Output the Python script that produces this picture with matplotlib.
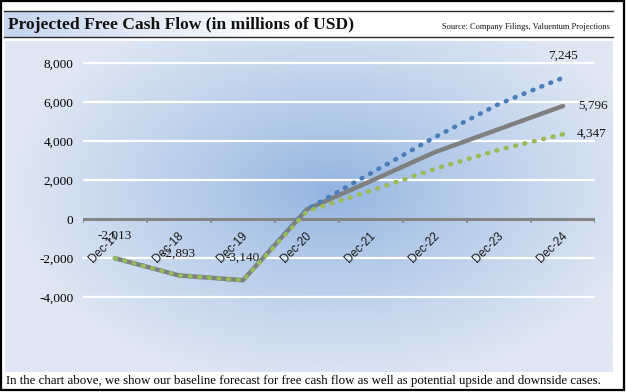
import numpy as np
import matplotlib
matplotlib.use("Agg")
from matplotlib import pyplot as plt
from matplotlib.patches import Rectangle

# data
periods = ["Dec-17", "Dec-18", "Dec-19", "Dec-20", "Dec-21", "Dec-22", "Dec-23", "Dec-24"]
baseline = [-2013, -2893, -3140, 500, 1950, 3430, 4610, 5796]
upside = [-2013, -2893, -3140, 500, 2350, 4200, 5900, 7245]
downside = [-2013, -2893, -3140, 400, 1450, 2570, 3550, 4347]
y_ticks = [-4000, -2000, 0, 2000, 4000, 6000, 8000]

W, H = 626, 392
serif = "Liberation Serif"
sans = "Liberation Sans"

fig = plt.figure(figsize=(W / 100, H / 100), dpi=100)

# background layer in pixel coordinates
bg = fig.add_axes([0, 0, 1, 1])
bg.set_xlim(0, W)
bg.set_ylim(H, 0)
bg.axis("off")

# title band: light blue fading to white
grad = np.linspace(0, 1, 300)
t = np.clip(grad / 0.45, 0, 1)
left = np.array([197, 213, 238]) / 255.0
band = (left[None, :] * (1 - t[:, None]) + np.ones(3)[None, :] * t[:, None])[None, :, :]
bg.imshow(band, extent=[4, 613, 37, 11], aspect="auto", zorder=1)
bg.plot([4, 613], [11, 11], color="#2b2b2b", lw=1.0, zorder=2)
bg.plot([4, 613], [37, 37], color="#2b2b2b", lw=1.0, zorder=2)

# chart panel with radial blue gradient
xx, yy = np.meshgrid(np.linspace(5, 613, 300), np.linspace(41, 372, 200))
r = np.sqrt(((xx - 330) / 320.0) ** 2 + ((yy - 190) / 200.0) ** 2)
r = np.clip(r, 0, 1) ** 0.85
r = r[..., None]
centre = np.array([146, 179, 224]) / 255.0
edge = np.array([222, 231, 243]) / 255.0
panel = centre * (1 - r) + edge * r
bg.imshow(panel, extent=[5, 613, 372, 41], aspect="auto", zorder=1)

# outer frame
bg.add_patch(Rectangle((0.8, 0.8), 623.5, 389.5, fill=False, edgecolor="black", lw=1.6, zorder=5))

bg.text(8, 25, "Projected Free Cash Flow (in millions of USD)", family=serif,
        fontweight="bold", fontsize=12.6, va="center", ha="left", color="#111111", zorder=3)
bg.text(610, 27, "Source: Company Filings, Valuentum Projections", family=serif,
        fontsize=6, va="center", ha="right", color="#111111", zorder=3)
bg.text(6, 381, "In the chart above, we show our baseline forecast for free cash flow as well as "
        "potential upside and downside cases.", family=serif, fontsize=9.25,
        va="center", ha="left", color="black", zorder=3)

# main chart: 8000 at y=63 px, -4000 at y=297 px
px_per_unit = 39.0 / 2000
top_px = 63 - 400 * px_per_unit
bot_px = 297 + 400 * px_per_unit
ax = fig.add_axes([83 / W, 1 - bot_px / H, 512 / W, (bot_px - top_px) / H])
ax.patch.set_visible(False)
ax.set_xlim(0, len(periods))
ax.set_ylim(-4400, 8400)
for s in ax.spines.values():
    s.set_visible(False)

ax.set_yticks(y_ticks)
ax.set_yticklabels([f"{v:,}" for v in y_ticks], family=serif, fontsize=9.5)
ax.tick_params(axis="y", length=0, pad=7)
ax.set_xticks([])
for v in y_ticks:
    if v != 0:
        ax.axhline(v, color="white", lw=1.6, zorder=1)

# zero axis with category tick marks
ax.axhline(0, color="#858585", lw=2.2, zorder=2)
ax.vlines(np.arange(len(periods) + 1), -210, 0, color="#858585", lw=1.2, zorder=2)

x = np.arange(len(periods)) + 0.5
for i, p in enumerate(periods):
    ax.text(x[i] + 0.04, -780, p, family=sans, fontsize=8.5, rotation=45,
            rotation_mode="anchor", ha="right", va="center", color="#1a1a1a", zorder=3)

dots = (0, (0.2, 1.9))
ax.plot(x, baseline, color="#7f7f7f", lw=3.2, solid_capstyle="round", zorder=4)
ax.plot(x, upside, color="#4a7ebb", lw=3.3, linestyle=dots, dash_capstyle="round", zorder=5)
ax.plot(x, downside, color="#9bbb59", lw=3.3, linestyle=dots, dash_capstyle="round", zorder=6)

# data labels
lab = dict(family=serif, fontsize=9.5, color="#1a1a1a", zorder=7)
for i in range(3):
    ax.text(x[i], baseline[i] + 1130, f"{baseline[i]:,}", ha="center", va="center", **lab)
ax.text(x[-1], upside[-1] + 1130, f"{upside[-1]:,}", ha="center", va="center", **lab)
ax.text(x[-1] + 0.24, baseline[-1], f"{baseline[-1]:,}", ha="left", va="center", **lab)
ax.text(x[-1] + 0.21, downside[-1], f"{downside[-1]:,}", ha="left", va="center", **lab)

fig.savefig("out.png", dpi=100)
